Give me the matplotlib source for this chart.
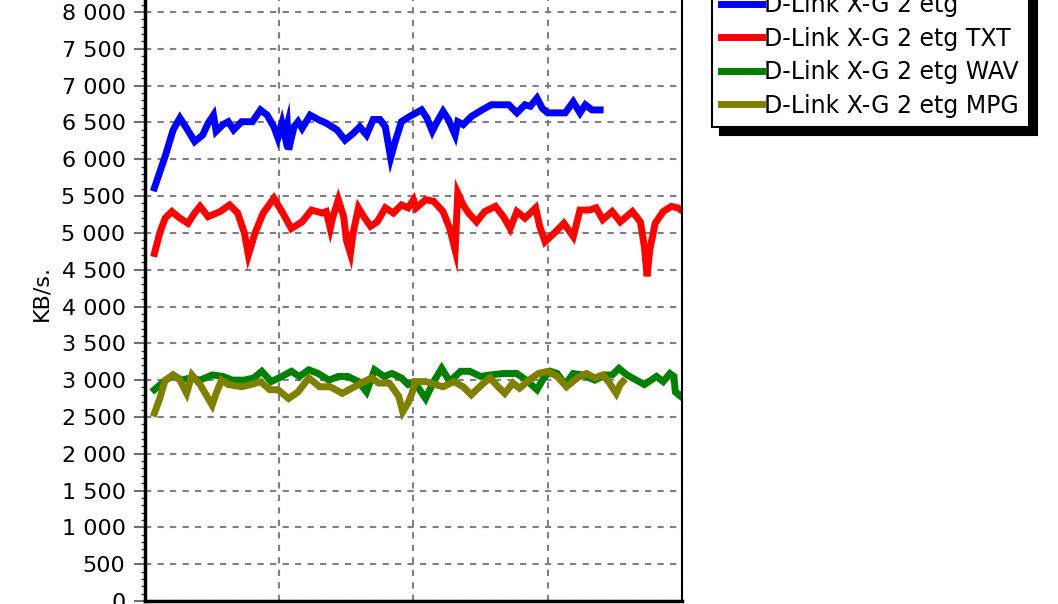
import numpy as np
import matplotlib
matplotlib.use('Agg')
import matplotlib.pyplot as plt
from matplotlib.ticker import FuncFormatter, MultipleLocator

plt.rcParams['font.family'] = ['DejaVu Sans']

# time axis (s) and throughput (KB/s) for each run
blue_x = [7, 15, 21, 26, 31, 37, 43, 47, 51, 53,
          58, 62, 66, 72, 80, 86, 91, 96, 99, 102,
          104, 106, 107, 111, 114, 117, 123, 129, 135, 143,
          149, 155, 160, 165, 170, 175, 179, 183, 186, 191,
          197, 206, 210, 214, 217, 222, 226, 231, 233, 237,
          243, 251, 258, 271, 277, 283, 287, 292, 296, 300,
          313, 319, 324, 328, 333, 339]
blue_y = [5610, 6040, 6400, 6560, 6420, 6240, 6330, 6490, 6600, 6380,
          6470, 6510, 6400, 6510, 6510, 6670, 6600, 6440, 6290, 6490,
          6330, 6470, 6130, 6440, 6510, 6420, 6600, 6540, 6490, 6400,
          6260, 6350, 6440, 6330, 6540, 6540, 6440, 6020, 6220, 6510,
          6580, 6670, 6560, 6380, 6490, 6650, 6540, 6330, 6510, 6470,
          6580, 6670, 6740, 6740, 6630, 6740, 6720, 6830, 6690, 6630,
          6630, 6780, 6630, 6740, 6670, 6670]

red_x = [7, 11, 15, 20, 26, 32, 37, 41, 47, 56,
         63, 69, 74, 77, 82, 88, 96, 102, 109, 117,
         124, 132, 135, 138, 140, 144, 148, 150, 153, 155,
         159, 163, 168, 173, 179, 185, 191, 196, 200, 202,
         209, 215, 222, 227, 231, 233, 237, 241, 247, 253,
         261, 267, 272, 277, 283, 291, 294, 298, 305, 312,
         319, 324, 331, 336, 341, 348, 354, 363, 369, 372,
         374, 376, 380, 386, 392, 397, 400]
red_y = [4720, 5000, 5200, 5290, 5200, 5130, 5270, 5360, 5220, 5290,
         5380, 5270, 5000, 4700, 5000, 5270, 5470, 5290, 5060, 5150,
         5310, 5270, 5290, 5060, 5220, 5450, 5220, 4900, 4720, 5000,
         5340, 5220, 5090, 5150, 5340, 5270, 5380, 5340, 5450, 5340,
         5450, 5430, 5290, 5060, 4770, 5540, 5380, 5270, 5150, 5290,
         5360, 5220, 5060, 5290, 5200, 5340, 5090, 4880, 5000, 5130,
         4950, 5310, 5310, 5340, 5180, 5290, 5150, 5290, 5150, 4810,
         4410, 4770, 5130, 5290, 5360, 5340, 5300]

green_x = [7, 14, 21, 27, 34, 41, 50, 58, 65, 74,
           81, 87, 94, 102, 109, 115, 122, 129, 137, 144,
           151, 159, 165, 171, 178, 184, 191, 196, 200, 202,
           209, 215, 221, 227, 235, 242, 250, 257, 267, 277,
           284, 292, 297, 302, 307, 313, 319, 326, 335, 343,
           348, 353, 359, 366, 372, 381, 386, 391, 394, 395,
           399, 400]
green_y = [2870, 2980, 3070, 3000, 3030, 3000, 3070, 3050, 3000, 3000,
           3030, 3120, 2980, 3050, 3120, 3050, 3140, 3090, 3000, 3050,
           3050, 2980, 2840, 3140, 3050, 3090, 3030, 2940, 2960, 2940,
           2750, 2980, 3160, 2980, 3120, 3120, 3050, 3070, 3090, 3090,
           3000, 2870, 3030, 3120, 3090, 2940, 3090, 3070, 3000, 3070,
           3070, 3160, 3070, 3000, 2940, 3050, 2980, 3090, 3050, 2840,
           2780, 2800]

olive_x = [7, 11, 15, 21, 26, 31, 35, 41, 50, 53,
           57, 62, 72, 79, 86, 93, 99, 107, 114, 122,
           130, 138, 147, 154, 161, 169, 174, 182, 189, 192,
           196, 199, 201, 209, 216, 222, 230, 237, 243, 251,
           257, 263, 268, 274, 279, 286, 293, 300, 307, 314,
           322, 329, 335, 341, 346, 351, 354, 356]
olive_y = [2550, 2750, 3000, 3070, 3000, 2820, 3070, 2940, 2660, 2820,
           3000, 2940, 2910, 2940, 2980, 2870, 2870, 2750, 2840, 3030,
           2910, 2910, 2820, 2890, 2960, 3030, 2960, 2960, 2780, 2570,
           2690, 2830, 2980, 2980, 2940, 2910, 2980, 2910, 2800, 2940,
           3030, 2910, 2820, 2960, 2890, 3000, 3090, 3120, 3050, 2910,
           3030, 3090, 3030, 3070, 2960, 2820, 2940, 2980]

labels = ['D-Link X-G 2 etg', 'D-Link X-G 2 etg TXT',
          'D-Link X-G 2 etg WAV', 'D-Link X-G 2 etg MPG']
colors = ['#0000ff', '#ff0000', '#008000', '#808000']

fig = plt.figure(figsize=(10.58, 6.04), dpi=100)
ax = fig.add_axes([145 / 1058, 3 / 604, 537 / 1058, 1.0361])

series = [(blue_x, blue_y), (red_x, red_y), (green_x, green_y), (olive_x, olive_y)]
for (xs, ys), c, lab in zip(series, colors, labels):
    ax.plot(xs, ys, color=c, lw=5, label=lab, solid_joinstyle='miter')

ax.set_xlim(0, 400)
ax.set_ylim(0, 8500)
ax.set_xticks([0, 100, 200, 300, 400])
ax.set_yticks(np.arange(0, 8501, 500))
ax.yaxis.set_minor_locator(MultipleLocator(100))
ax.yaxis.set_major_formatter(FuncFormatter(lambda v, _: f"{int(v):,}".replace(",", " ")))
ax.tick_params(axis='x', labelbottom=False, length=0)
ax.tick_params(axis='y', which='major', length=8, width=1.5, color='#707070',
               labelsize=16, pad=6)
ax.tick_params(axis='y', which='minor', length=3, width=1, color='#404040')

ax.grid(True, color='#808080', lw=1.5, ls=(0, (3, 3)))
ax.set_axisbelow(True)
ax.spines['left'].set_linewidth(2.5)
ax.spines['bottom'].set_linewidth(2.5)
ax.spines['right'].set_linewidth(1.5)
ax.spines['top'].set_visible(False)

fig.text(41 / 1058, 1 - 293 / 604, 'KB/s.', rotation=90, fontsize=16,
         ha='center', va='center')

leg = fig.legend(loc='lower left', bbox_to_anchor=(712 / 1058, 1 - 127 / 604),
                 fontsize=17, frameon=True, fancybox=False, framealpha=1,
                 edgecolor='black', labelspacing=0.4, handlelength=1.7,
                 handletextpad=0.12, borderpad=0.4, borderaxespad=0,
                 shadow={'ox': 6, 'oy': -6, 'color': 'black', 'alpha': 1})
leg.get_frame().set_linewidth(1.5)

fig.savefig('out.png', dpi=100, facecolor='white')
